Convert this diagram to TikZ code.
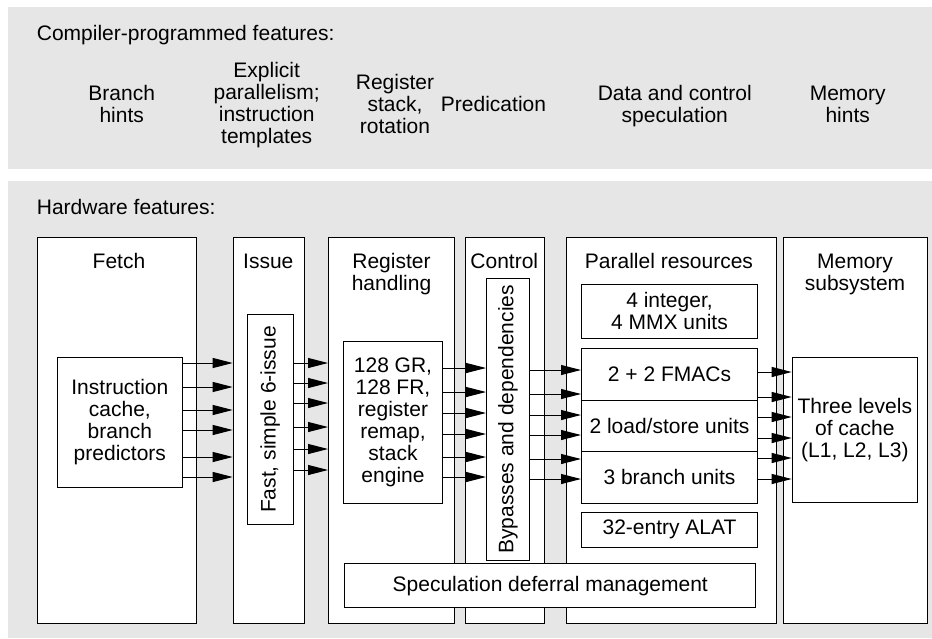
\documentclass[tikz,border=0pt]{standalone}
\usepackage{fontspec}
\setmainfont{Liberation Sans}
\usetikzlibrary{arrows.meta}
\definecolor{panelgray}{RGB}{230,230,230}
\tikzset{
  panel/.style={fill=panelgray, draw=none},
  unitbox/.style={draw=black, fill=white, line width=1pt, inner sep=0pt,
                  anchor=north west, align=center},
  txt/.style={inner sep=0pt, align=center},
  feed/.style={line width=1pt, -{Triangle[length=20pt,width=10pt]}},
}
\begin{document}
\begin{tikzpicture}[x=1pt, y=-1pt,
  every node/.style={font=\fontsize{21pt}{22pt}\selectfont}]
\useasboundingbox (0,0) rectangle (932,638);

% background panels
\fill[panel] (8,7) rectangle (932,169.3);
\fill[panel] (8,180.7) rectangle (932,638);

% compiler-programmed features (base anchor = baseline of the last line)
\node[txt, anchor=base west] (comp) at (36.7,40) {Compiler-programmed features:};
\node[txt, anchor=base] (bh)   at (121.7,122.7) {Branch\\hints};
\node[txt, anchor=base] (ep)   at (266.7,143.7) {Explicit\\parallelism;\\instruction\\templates};
\node[txt, anchor=base] (rs)   at (395,133.3)   {Register\\stack,\\rotation};
\node[txt, anchor=base] (pred) at (493.5,111.7) {Predication};
\node[txt, anchor=base] (dcs)  at (674.8,122.7) {Data and control\\speculation};
\node[txt, anchor=base] (mh)   at (847.7,122.7) {Memory\\hints};

% hardware features
\node[txt, anchor=base west] (hw) at (36.7,214) {Hardware features:};

% pipeline stages
\node[unitbox, minimum width=159.3pt, minimum height=386pt] (fetch) at (36.7,237) {};
\node[unitbox, minimum width=71.3pt,  minimum height=386pt] (issue) at (232.7,237) {};
\node[unitbox, minimum width=126pt,   minimum height=386pt] (reg)   at (328,237) {};
\node[unitbox, minimum width=79pt,    minimum height=386pt] (ctrl)  at (465,237) {};
\node[unitbox, minimum width=210pt,   minimum height=386pt] (par)   at (566,237) {};
\node[unitbox, minimum width=144pt,   minimum height=386pt] (mem)   at (783,237) {};

% stage titles
\node[txt, anchor=base] (fetchT) at (119,268.3)   {Fetch};
\node[txt, anchor=base] (issueT) at (268.3,268.3) {Issue};
\node[txt, anchor=base] (regT)   at (391.5,290.3) {Register\\handling};
\node[txt, anchor=base] (ctrlT)  at (504.3,268.3) {Control};
\node[txt, anchor=base] (parT)   at (669,268.3)   {Parallel resources};
\node[txt, anchor=base] (memT)   at (855,290.3)   {Memory\\subsystem};

% units inside the stages
\node[unitbox, minimum width=125.3pt, minimum height=130.3pt] (icache) at (56.7,356.7)
  {Instruction\\cache,\\branch\\predictors};
\node[unitbox, minimum width=46pt, minimum height=210pt] (fast) at (246.7,314) {};
\node[txt, rotate=90] (fastT) at (fast.center) {Fast, simple 6-issue};
\node[unitbox, minimum width=99pt, minimum height=162pt] (regin) at (343,341)
  {128 GR,\\128 FR,\\register\\remap,\\stack\\engine};
\node[unitbox, minimum width=43pt, minimum height=282.3pt] (byp) at (486,277.7) {};
\node[txt, rotate=90] (bypT) at (byp.center) {Bypasses and dependencies};
\node[unitbox, minimum width=176pt, minimum height=53.7pt] (intu) at (581,284)
  {4 integer,\\4 MMX units};
\node[unitbox, minimum width=176pt, minimum height=51.7pt] (fmac) at (581,348.3)
  {2 + 2 FMACs};
\node[unitbox, minimum width=176pt, minimum height=51pt] (lsu) at (581,400)
  {2 load/store units};
\node[unitbox, minimum width=176pt, minimum height=51.7pt] (bru) at (581,451)
  {3 branch units};
\node[unitbox, minimum width=176pt, minimum height=35pt] (alat) at (581,511.7)
  {32-entry ALAT};
\node[unitbox, minimum width=125.3pt, minimum height=145pt] (cache) at (791.7,356.7)
  {Three levels\\of cache\\(L1, L2, L3)};

% speculation deferral spans several stages
\node[unitbox, minimum width=411pt, minimum height=44pt] (spec) at (344.3,563.3)
  {Speculation deferral management};

% data paths between stages
\foreach \y in {363,387,410,430,457,477}
  \draw[feed] (icache.east |- 0,\y) -- (issue.west |- 0,\y);
\foreach \y in {363,383,403,427,449,470}
  \draw[feed] (fast.east |- 0,\y) -- (reg.west |- 0,\y);
\foreach \y in {368,392,413,434,457,477}
  \draw[feed] (regin.east |- 0,\y) -- (byp.west |- 0,\y);
\foreach \y in {370,394,415,435,459,479}
  \draw[feed] (byp.east |- 0,\y) -- (fmac.west |- 0,\y);
\foreach \y in {372,397,417,438,458,479}
  \draw[feed] (fmac.east |- 0,\y) -- (cache.west |- 0,\y);
\end{tikzpicture}
\end{document}
